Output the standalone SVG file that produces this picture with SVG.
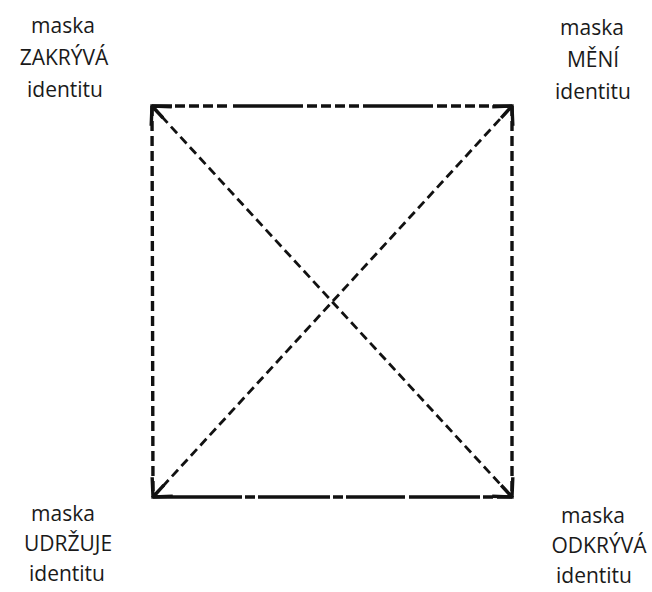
<svg xmlns="http://www.w3.org/2000/svg" width="652" height="592" viewBox="0 0 652 592">
<style>
  .lbl { font-family: "Open Sans", "DejaVu Sans", sans-serif; font-size: 21px; fill: #1a1a1a; text-anchor: middle; }
  .edge { stroke: #111; stroke-width: 3.4; fill: none; }
  .diag { stroke: #111; stroke-width: 2.8; fill: none; stroke-dasharray: 9 5; }
</style>
<defs>
  <marker id="arr" viewBox="-20 -20 24 40" markerWidth="24" markerHeight="40" refX="0" refY="0" orient="auto-start-reverse" markerUnits="userSpaceOnUse">
    <path d="M -14 -14 L 0 0 L -14 14 M 0 0 L -16 0" fill="none" stroke="#111" stroke-width="3.4"/>
  </marker>
</defs>
<rect width="652" height="592" fill="#fff"/>
<g id="connectors">
  <line class="edge" x1="152" y1="106" x2="512" y2="106" stroke-dasharray="20 3 10 4 10 4 10 4 10 6 70 4 10 4 10 4 10 4 10 4 70 4 10 4 10 4 10 4 10 4 20"/>
  <line class="edge" x1="153" y1="497" x2="512" y2="497" stroke-dasharray="89 3 10 3 72 3 10 3 59 4 71 3 10 4 30"/>
  <line class="edge" x1="152" y1="106" x2="153" y2="497" stroke-dasharray="10 5"/>
  <line class="edge" x1="512" y1="106" x2="512" y2="497" stroke-dasharray="10 5"/>
  <line class="diag" x1="152" y1="106" x2="512" y2="497" marker-start="url(#arr)" marker-end="url(#arr)"/>
  <line class="diag" x1="153" y1="497" x2="512" y2="106" marker-start="url(#arr)" marker-end="url(#arr)"/>
</g>
<g id="zakryva">
  <text class="lbl" x="63" y="33">maska</text>
  <text class="lbl" x="64" y="65">ZAKRÝVÁ</text>
  <text class="lbl" x="65" y="97">identitu</text>
</g>
<g id="meni">
  <text class="lbl" x="592" y="35">maska</text>
  <text class="lbl" x="593" y="67">MĚNÍ</text>
  <text class="lbl" x="593" y="99">identitu</text>
</g>
<g id="udrzuje">
  <text class="lbl" x="63" y="521">maska</text>
  <text class="lbl" x="68" y="551">UDRŽUJE</text>
  <text class="lbl" x="67" y="581">identitu</text>
</g>
<g id="odkryva">
  <text class="lbl" x="593" y="523">maska</text>
  <text class="lbl" x="599" y="553">ODKRÝVÁ</text>
  <text class="lbl" x="594" y="583">identitu</text>
</g>
</svg>
